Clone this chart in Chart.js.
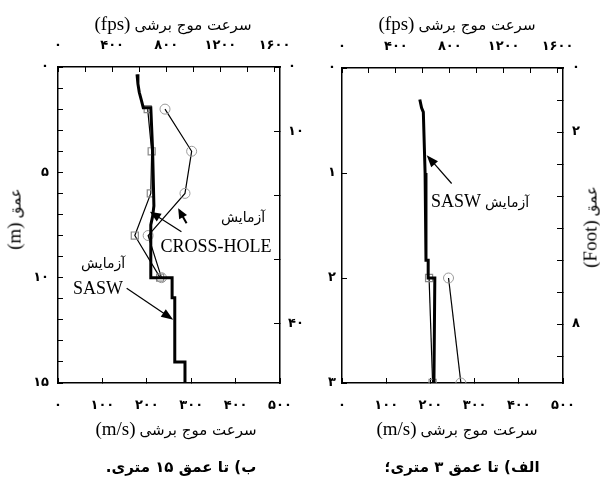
<!DOCTYPE html>
<html>
<head>
<meta charset="utf-8">
<script src="https://cdn.jsdelivr.net/npm/chart.js@4/dist/chart.umd.min.js"></script>
<style>
html,body{margin:0;padding:0;background:#fff;}
#wrap{position:relative;width:600px;height:494px;overflow:hidden;background:#fff;}
canvas{position:absolute;top:0;}
.t{position:absolute;white-space:nowrap;color:#000;line-height:1;transform:translate(-50%,-50%);}
.fa{font-family:"DejaVu Sans",sans-serif;}
.la{font-family:"Liberation Serif",serif;unicode-bidi:isolate;}
.rot{transform:translate(-50%,-50%) rotate(-90deg);}
.b{font-weight:bold;}
</style>
</head>
<body>
<div id="wrap">
  <canvas id="deep" width="320" height="494" style="left:0"></canvas>
  <canvas id="shallow" width="300" height="494" style="left:300px"></canvas>

  <!-- axis titles -->
  <div class="t" dir="rtl" style="left:173px;top:23px"><span class="fa" style="font-size:15px">سرعت موج برشی</span> <span class="la" dir="ltr" style="font-size:19px">(fps)</span></div>
  <div class="t" dir="rtl" style="left:457px;top:23px"><span class="fa" style="font-size:15px">سرعت موج برشی</span> <span class="la" dir="ltr" style="font-size:19px">(fps)</span></div>
  <div class="t" dir="rtl" style="left:176px;top:428px"><span class="fa" style="font-size:15px">سرعت موج برشی</span> <span class="la" dir="ltr" style="font-size:19px">(m/s)</span></div>
  <div class="t" dir="rtl" style="left:457px;top:428px"><span class="fa" style="font-size:15px">سرعت موج برشی</span> <span class="la" dir="ltr" style="font-size:19px">(m/s)</span></div>
  <div class="t rot" dir="rtl" style="left:14px;top:219px"><span class="fa" style="font-size:15px">عمق</span> <span class="la" dir="ltr" style="font-size:19px">(m)</span></div>
  <div class="t rot" dir="rtl" style="left:590px;top:227px"><span class="fa" style="font-size:15px">عمق</span> <span class="la" dir="ltr" style="font-size:19px">(Foot)</span></div>

  <!-- panel captions -->
  <div class="t fa b" dir="rtl" style="left:181px;top:467px;font-size:15px">ب) تا عمق ۱۵ متری.</div>
  <div class="t fa b" dir="rtl" style="left:462px;top:467px;font-size:15px">الف) تا عمق ۳ متری؛</div>

  <!-- curve labels -->
  <div class="t fa" dir="rtl" style="left:243px;top:217px;font-size:14px">آزمایش</div>
  <div class="t la" style="left:216px;top:246px;font-size:18px">CROSS-HOLE</div>
  <div class="t fa" dir="rtl" style="left:103px;top:263px;font-size:14px">آزمایش</div>
  <div class="t la" style="left:98px;top:288px;font-size:18px">SASW</div>
  <div class="t" dir="rtl" style="left:480px;top:201px"><span class="fa" style="font-size:14px">آزمایش</span> <span class="la" dir="ltr" style="font-size:18px">SASW</span></div>
</div>

<script>
// ---- profile 0-15 m : shear-wave velocity (m/s) against depth (m) ----
const saswDeepVel   = [178, 180, 183, 188, 192, 209, 213, 216, 213, 209, 209, 257, 257, 263, 263, 286, 286];
const saswDeepDepth = [0.35, 0.8, 1.2, 1.6, 1.93, 1.93, 3.9, 6.6, 7.1, 7.5, 10.0, 10.0, 10.95, 10.95, 14.0, 14.0, 15.0];
const holeCircleDeepVel   = [241, 301, 286, 203, 233];
const holeCircleDeepDepth = [2, 4, 6, 8, 10];
const holeSquareDeepVel   = [202, 211, 209, 173, 230];
const holeSquareDeepDepth = [2, 4, 6, 8, 10];

// ---- profile 0-3 m ----
const saswShallowVel   = [176, 180, 184, 188, 190, 195, 195, 210, 208];
const saswShallowDepth = [0.30, 0.38, 0.42, 1.0, 1.83, 1.83, 2.0, 2.0, 3.0];
const holeCircleShallowVel   = [241, 269];
const holeCircleShallowDepth = [2, 3];
const holeSquareShallowVel   = [197, 205];
const holeSquareShallowDepth = [2, 3];

// ---- labelled tick values ----
const msLabels           = [0, 100, 200, 300, 400, 500];
const fpsLabels          = [0, 400, 800, 1200, 1600];
const depthLabelsDeep    = [0, 5, 10, 15];
const footLabelsDeep     = [0, 10, 40];
const depthLabelsShallow = [0, 1, 2, 3];
const footLabelsShallow  = [0, 2, 8];

const FT = 0.3048;
const faDigits = v => String(v).replace(/\d/g, d => '۰۱۲۳۴۵۶۷۸۹'[d]);
const pts = (xs, ys) => xs.map((x, i) => ({x, y: ys[i]}));
const labelIf = list => v => {
  const r = Math.round(v);
  return (Math.abs(v - r) < 1e-6 && list.includes(r)) ? faDigits(r) : '';
};

const arrowPlugin = {
  id: 'arrows',
  afterDatasetsDraw(chart, args, opts) {
    const ctx = chart.ctx, xs = chart.scales.x, ys = chart.scales.y;
    (opts.items || []).forEach(a => {
      const x1 = xs.getPixelForValue(a.from[0]), y1 = ys.getPixelForValue(a.from[1]);
      const x2 = xs.getPixelForValue(a.to[0]),   y2 = ys.getPixelForValue(a.to[1]);
      const ang = Math.atan2(y2 - y1, x2 - x1);
      const L = a.head || 11, W = (a.headW || 8) / 2;
      const c = Math.cos(ang), s = Math.sin(ang);
      ctx.save();
      ctx.strokeStyle = '#000'; ctx.fillStyle = '#000';
      ctx.lineWidth = a.width || 1.2;
      ctx.beginPath();
      ctx.moveTo(x1, y1);
      ctx.lineTo(x2 - c * L * 0.7, y2 - s * L * 0.7);
      ctx.stroke();
      ctx.beginPath();
      ctx.moveTo(x2, y2);
      ctx.lineTo(x2 - L * c + W * s, y2 - L * s - W * c);
      ctx.lineTo(x2 - L * c - W * s, y2 - L * s + W * c);
      ctx.closePath();
      ctx.fill();
      ctx.restore();
    });
  }
};

const tickFont = {family: 'DejaVu Sans', size: 13, weight: 'bold'};
const baseTicks = () => ({autoSkip: false, includeBounds: false, color: '#000', font: tickFont, maxRotation: 0});

function axis(pos, cfg) {
  return Object.assign({
    type: 'linear',
    position: pos,
    border: {color: '#000', width: 1.5},
    grid: {drawOnChartArea: false, drawTicks: true, tickLength: -5, color: '#000', lineWidth: 1}
  }, cfg);
}

function profileChart(id, o) {
  const sasw = {
    label: 'SASW', data: o.sasw, showLine: true, borderColor: '#000', borderWidth: 3,
    pointRadius: 0, fill: false, tension: 0
  };
  const circles = {
    label: 'CROSS-HOLE', data: o.circles, showLine: true, borderColor: '#000', borderWidth: 1.2,
    pointStyle: 'circle', pointRadius: 5, pointBorderColor: '#9a9a9a', pointBackgroundColor: 'rgba(0,0,0,0)',
    pointBorderWidth: 1, fill: false, tension: 0
  };
  const squares = {
    label: 'CROSS-HOLE 2', data: o.squares, showLine: true, borderColor: '#000', borderWidth: 1.2,
    pointStyle: 'rect', pointRadius: 5, pointBorderColor: '#8a8a8a', pointBackgroundColor: 'rgba(0,0,0,0)',
    pointBorderWidth: 1.2, fill: false, tension: 0
  };
  const s = o.size;
  // fix each axis box so the plotting frame lands where it should
  const fixH = h => sc => { sc.height = h; sc.paddingLeft = 0; sc.paddingRight = 0; };
  const fixW = w => sc => { sc.width = w; sc.paddingTop = 0; sc.paddingBottom = 0; };
  return new Chart(document.getElementById(id), {
    type: 'scatter',
    data: {datasets: [sasw, squares, circles]},
    plugins: [arrowPlugin],
    options: {
      responsive: false, animation: false, devicePixelRatio: 1,
      layout: {padding: 0},
      plugins: {legend: {display: false}, tooltip: {enabled: false}, arrows: {items: o.arrows}},
      scales: {
        x: axis('bottom', {
          min: 0, max: 500, afterFit: fixH(s.bottom),
          ticks: Object.assign(baseTicks(), {stepSize: 100, padding: 20, callback: labelIf(msLabels)})
        }),
        x2: axis('top', {
          axis: 'x', min: 0, max: 500 / FT, afterFit: fixH(s.top),
          ticks: Object.assign(baseTicks(), {stepSize: 200, padding: 19, callback: labelIf(fpsLabels)})
        }),
        y: axis('left', {
          reverse: true, min: 0, max: o.maxDepth, afterFit: fixW(s.left),
          ticks: Object.assign(baseTicks(), {stepSize: 1, padding: s.leftPad, callback: labelIf(o.depthLabels)})
        }),
        y2: axis('right', {
          axis: 'y', reverse: true, min: 0, max: o.maxDepth / FT, afterFit: fixW(s.right),
          grid: {drawOnChartArea: false, drawTicks: true, tickLength: -6, color: '#000', lineWidth: 1},
          ticks: Object.assign(baseTicks(), {stepSize: o.footStep, padding: s.rightPad, callback: labelIf(o.footLabels)})
        })
      }
    }
  });
}

profileChart('deep', {
  sasw: pts(saswDeepVel, saswDeepDepth),
  circles: pts(holeCircleDeepVel, holeCircleDeepDepth),
  squares: pts(holeSquareDeepVel, holeSquareDeepDepth),
  maxDepth: 15, footStep: 10,
  depthLabels: depthLabelsDeep, footLabels: footLabelsDeep,
  size: {top: 67, bottom: 111, left: 58, right: 40, leftPad: 14, rightPad: 14},
  arrows: [
    {from: [289.6, 7.42], to: [270.7, 6.71], width: 2, head: 10, headW: 9},
    {from: [278, 7.82], to: [207, 6.87], width: 1.2, head: 11, headW: 9},
    {from: [154.6, 10.5], to: [259.5, 12.0], width: 1.2, head: 12, headW: 9}
  ]
});

profileChart('shallow', {
  sasw: pts(saswShallowVel, saswShallowDepth),
  circles: pts(holeCircleShallowVel, holeCircleShallowDepth),
  squares: pts(holeSquareShallowVel, holeSquareShallowDepth),
  maxDepth: 3, footStep: 1,
  depthLabels: depthLabelsShallow, footLabels: footLabelsShallow,
  size: {top: 68, bottom: 111, left: 42, right: 37, leftPad: 11, rightPad: 15},
  arrows: [
    {from: [248, 1.10], to: [191.6, 0.83], width: 1.2, head: 12, headW: 9}
  ]
});
</script>
</body>
</html>
